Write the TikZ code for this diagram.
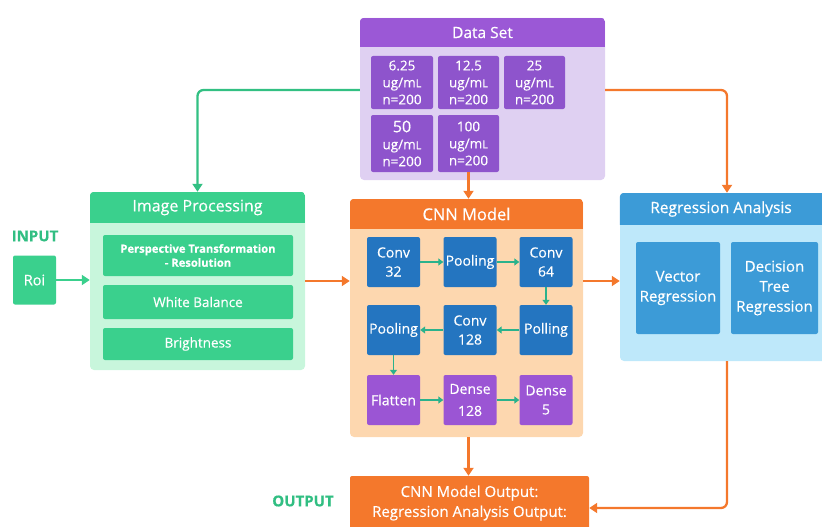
\documentclass[tikz,border=0pt]{standalone}
\usepackage{fontspec}
\setmainfont{Open Sans}[FakeBold=0.4]
\usetikzlibrary{arrows.meta,positioning}

\definecolor{dspurple}{RGB}{155,88,214}
\definecolor{dsbox}{RGB}{142,84,204}
\definecolor{dsbody}{RGB}{223,208,242}
\definecolor{ipgreen}{RGB}{58,208,141}
\definecolor{ipbody}{RGB}{200,246,220}
\definecolor{lblgreen}{RGB}{49,190,130}
\definecolor{cnnorange}{RGB}{244,120,44}
\definecolor{cnnbody}{RGB}{253,215,175}
\definecolor{cnnblue}{RGB}{36,117,192}
\definecolor{cnnpurple}{RGB}{155,85,212}
\definecolor{regblue}{RGB}{60,155,215}
\definecolor{regbody}{RGB}{190,232,250}
\definecolor{tealarrow}{RGB}{42,178,140}

\newcommand{\smallL}{{\fontsize{11}{12}\selectfont L}}

\begin{document}
\begin{tikzpicture}[x=1pt,y=-1pt,
  panel/.style={rounded corners=4pt, inner sep=0pt},
  head/.style={inner sep=0pt, text=white, font=\fontsize{15.5}{18}\selectfont},
  box/.style={rounded corners=2pt, text=white, align=center, inner sep=0pt,
    font=\fontsize{13.5}{17}\selectfont},
  layer/.style={box, minimum width=53, minimum height=50,
    font=\fontsize{14}{19}\selectfont},
  link/.style={line width=2.3pt, -{Triangle[length=8pt,width=10pt]}, rounded corners=6pt},
  inlink/.style={line width=1.8pt, tealarrow, -{Triangle[length=5pt,width=7pt]}},
  tag/.style={text=lblgreen, font=\bfseries\fontsize{15}{18}\selectfont}
]
\useasboundingbox (0,0) rectangle (822,527);

% data set
\node[panel, fill=dsbody, minimum width=245, minimum height=162] (dataset) at (482.5,99) {};
\begin{scope}
\clip[rounded corners=4pt] (dataset.north west) rectangle (dataset.south east);
\node[head, fill=dspurple, minimum width=245, minimum height=29, anchor=north] (dshead) at (dataset.north) {Data Set};
\end{scope}
\node[box, fill=dsbox, minimum width=62, minimum height=53] (d1) at (402,82.5) {6.25\\ug/m\smallL\\n=200};
\node[box, fill=dsbox, minimum width=61, minimum height=53] (d2) at (468.5,82.5) {12.5\\ug/m\smallL\\n=200};
\node[box, fill=dsbox, minimum width=61, minimum height=53] (d3) at (534.5,82.5) {25\\ug/m\smallL\\n=200};
\node[box, fill=dsbox, minimum width=62, minimum height=57] (d4) at (402,143.5) {{\fontsize{16}{17}\selectfont 50}\\ug/m\smallL\\n=200};
\node[box, fill=dsbox, minimum width=61, minimum height=57] (d5) at (468.5,143.5) {100\\ug/m\smallL\\n=200};

% image processing
\node[panel, fill=ipbody, minimum width=215, minimum height=178] (improc) at (197.5,281) {};
\begin{scope}
\clip[rounded corners=4pt] (improc.north west) rectangle (improc.south east);
\node[head, fill=ipgreen, minimum width=215, minimum height=31, anchor=north,
  font=\fontsize{16}{18}\selectfont] (iphead) at (improc.north) {Image Processing};
\end{scope}
\node[box, fill=ipgreen, minimum width=190, minimum height=41,
  font=\bfseries\fontsize{11.2}{14}\selectfont] (p1) at (198,255.5) {Perspective Transformation\\- Resolution};
\node[box, fill=ipgreen, minimum width=190, minimum height=34] (p2) at (198,302) {White Balance};
\node[box, fill=ipgreen, minimum width=190, minimum height=32] (p3) at (198,344) {Brightness};

% input
\node[tag] (input) at (35,236) {INPUT};
\node[box, fill=ipgreen, minimum width=43, minimum height=49, font=\fontsize{14.5}{16}\selectfont] (roi) at (34.5,280) {Roi};

% cnn model
\node[panel, fill=cnnbody, minimum width=233, minimum height=238] (cnn) at (466.5,318) {};
\begin{scope}
\clip[rounded corners=4pt] (cnn.north west) rectangle (cnn.south east);
\node[head, fill=cnnorange, minimum width=233, minimum height=30, anchor=north,
  font=\fontsize{16.5}{18}\selectfont] (cnnhead) at (cnn.north) {CNN Model};
\end{scope}
\node[layer, fill=cnnblue] (c1) at (393.5,262) {Conv\\32};
\node[layer, fill=cnnblue] (c2) at (470,262) {Pooling};
\node[layer, fill=cnnblue] (c3) at (546,262) {Conv\\64};
\node[layer, fill=cnnblue] (c4) at (393.5,330) {Pooling};
\node[layer, fill=cnnblue] (c5) at (470,330) {Conv\\128};
\node[layer, fill=cnnblue] (c6) at (546,330) {Polling};
\node[layer, fill=cnnpurple] (c7) at (393.5,400) {Flatten};
\node[layer, fill=cnnpurple, font=\fontsize{14}{22}\selectfont] (c8) at (470,400) {Dense\\128};
\node[layer, fill=cnnpurple] (c9) at (546,400) {Dense\\5};

\draw[inlink] (c1) -- (c2);
\draw[inlink] (c2) -- (c3);
\draw[inlink] (c3) -- (c6);
\draw[inlink] (c6) -- (c5);
\draw[inlink] (c5) -- (c4);
\draw[inlink] (c4) -- (c7);
\draw[inlink] (c7) -- (c8);
\draw[inlink] (c8) -- (c9);

% regression analysis
\node[panel, fill=regbody, minimum width=210, minimum height=168] (reg) at (725,277) {};
\begin{scope}
\clip[rounded corners=4pt] (reg.north west) rectangle (reg.south east);
\node[head, fill=regblue, minimum width=210, minimum height=32, anchor=north, xshift=-4pt] (reghead) at (reg.north) {Regression Analysis};
\end{scope}
\node[box, fill=regblue, minimum width=84, minimum height=92, font=\fontsize{15}{20}\selectfont] (vr) at (678,288) {Vector\\Regression};
\node[box, fill=regblue, minimum width=87, minimum height=92, font=\fontsize{15}{20}\selectfont] (dt) at (774.5,288) {Decision\\Tree\\Regression};

% output
\node[tag] (outlbl) at (303,501) {OUTPUT};
\node[box, fill=cnnorange, minimum width=239, minimum height=54, font=\fontsize{15}{20}\selectfont] (out) at (469.5,503) {CNN Model Output:\\Regression Analysis Output:};

% connectors
\draw[link, ipgreen] (roi) -- (roi -| improc.west);
\draw[link, lblgreen!90!ipgreen] ([yshift=9pt]dataset.west) -| (improc.north);
\draw[link, cnnorange] ([yshift=9pt]dataset.east) -| ([xshift=2pt]reg.north);
\draw[link, cnnorange] (d5.south) -- (d5.south |- cnn.north);
\draw[link, cnnorange] (improc.east) -- (cnn.west |- improc.east);
\draw[link, cnnorange] (cnn.east |- improc.east) -- (reg.west |- improc.east);
\draw[link, cnnorange] (cnn.south -| d5.south) -- (d5.south |- out.north);
\draw[link, cnnorange] ([xshift=2pt]reg.south) |- ([yshift=-5pt]out.east);

\end{tikzpicture}
\end{document}
